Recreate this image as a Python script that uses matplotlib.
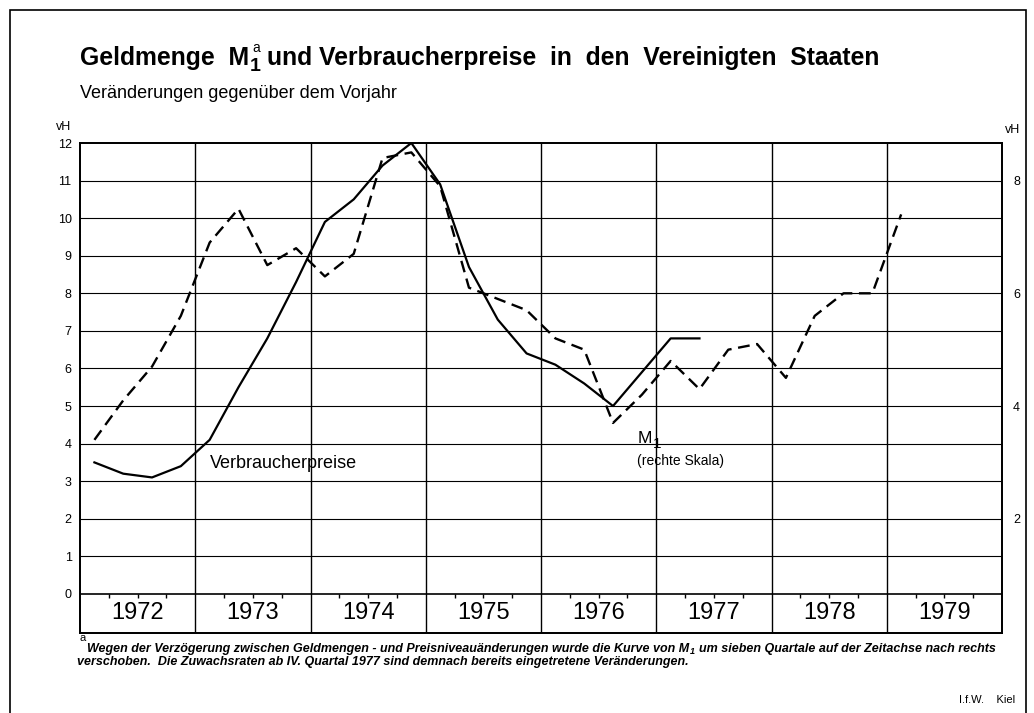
import numpy as np
import matplotlib
matplotlib.use('Agg')
import matplotlib.pyplot as plt
from matplotlib.patches import Rectangle

# years on the time axis
years = [1972, 1973, 1974, 1975, 1976, 1977, 1978, 1979]

# Verbraucherpreise, quarterly I/1972 - II/1977 (left scale, vH)
cpi = [3.5, 3.2, 3.1, 3.4,
       4.1, 5.5, 6.8, 8.3,
       9.9, 10.5, 11.4, 12.0,
       10.9, 8.7, 7.3, 6.4,
       6.1, 5.6, 5.0, 5.9,
       6.8, 6.8]

# Geldmenge M1, quarterly I/1972 - I/1979, shifted 7 quarters (right scale, vH)
m1 = [3.4, 4.1, 4.7, 5.6,
      6.9, 7.5, 6.5, 6.8,
      6.3, 6.7, 8.4, 8.5,
      7.9, 6.1, 5.9, 5.7,
      5.2, 5.0, 3.7, 4.2,
      4.8, 4.3, 5.0, 5.1,
      4.5, 5.6, 6.0, 6.0,
      7.4]

left_ticks = list(range(0, 13))
right_ticks = [2, 4, 6, 8]

plt.rcParams['font.family'] = ['Liberation Sans', 'DejaVu Sans']

W, H = 1034, 713


def fx(px):
    return px / W


def fy(py):
    return 1 - py / H


fig = plt.figure(figsize=(W / 100, H / 100), dpi=100)
renderer = fig.canvas.get_renderer()


def text_after(px, py, s, **kw):
    # put text at pixel position, return pixel x of its right end
    t = fig.text(fx(px), fy(py), s, va='baseline', **kw)
    bb = t.get_window_extent(renderer)
    return bb.x1


ax = fig.add_axes([fx(80), fy(633), fx(1002) - fx(80), fy(143) - fy(633)])

ybot = -1.04
ax.set_xlim(years[0], years[-1] + 1)
ax.set_ylim(ybot, 12)

# grid
ax.hlines(left_ticks[1:-1], years[0], years[-1] + 1, color='black', lw=0.8)
ax.hlines(0, years[0], years[-1] + 1, color='black', lw=1.2)
ax.vlines(years[1:], ybot, 12, color='black', lw=1.0)
for y in years:
    for q in (1, 2, 3):
        ax.vlines(y + q / 4, -0.12, 0, color='black', lw=1.0)
    ax.text(y + 0.5, -0.52, str(y), ha='center', va='center', fontsize=17)

# curves
t_cpi = years[0] + (np.arange(len(cpi)) + 0.5) / 4
ax.plot(t_cpi, cpi, color='black', lw=1.6)

ax2 = ax.twinx()
ax2.set_ylim((ybot + 1) / 1.5, 13 / 1.5)
t_m1 = years[0] + (np.arange(len(m1)) + 0.5) / 4
ax2.plot(t_m1, m1, color='black', lw=1.7, linestyle=(0, (5, 2.8)))

ax.set_xticks([])
ax.set_yticks(left_ticks)
ax.tick_params(axis='y', length=0, pad=6, labelsize=9)
ax2.set_yticks(right_ticks)
ax2.tick_params(axis='y', length=0, pad=8, labelsize=9)
for a in (ax, ax2):
    for s in a.spines.values():
        s.set_linewidth(1.3)

# title, built in pieces for the M1 with sub- and superscript
x = text_after(80, 65, 'Geldmenge  M', fontsize=17.8, fontweight='bold')
x1 = text_after(x + 1, 71, '1', fontsize=14, fontweight='bold')
x2 = text_after(x + 3, 52, 'a', fontsize=10)
text_after(max(x1, x2) + 6, 65, 'und Verbraucherpreise  in  den  Vereinigten  Staaten',
           fontsize=17.8, fontweight='bold')

fig.text(fx(80), fy(93), 'Veränderungen gegenüber dem Vorjahr', fontsize=13, va='center')
fig.text(fx(56), fy(127), 'vH', fontsize=9, va='center')
fig.text(fx(1005), fy(130), 'vH', fontsize=9, va='center')

fig.text(fx(210), fy(463), 'Verbraucherpreise', fontsize=13, va='center')
x = text_after(638, 443, 'M', fontsize=12.5)
text_after(x + 1, 448, '1', fontsize=11)
fig.text(fx(637), fy(461), '(rechte Skala)', fontsize=10, va='center')

fn = dict(fontsize=9, fontweight='bold', style='italic')
fig.text(fx(80), fy(638), 'a', fontsize=8, va='center')
x = text_after(87, 652,
               'Wegen der Verzögerung zwischen Geldmengen - und Preisniveauänderungen wurde die Kurve von M', **fn)
x = text_after(x + 1, 654, '1', fontsize=6.5, fontweight='bold', style='italic')
text_after(x + 4, 652, 'um sieben Quartale auf der Zeitachse nach rechts', **fn)
text_after(77, 665,
           'verschoben.  Die Zuwachsraten ab IV. Quartal 1977 sind demnach bereits eingetretene Veränderungen.', **fn)
fig.text(fx(1015), fy(700), 'I.f.W.    Kiel', fontsize=8, ha='right', va='center')

# outer frame
fig.patches.append(Rectangle((fx(10), -0.02), fx(1026) - fx(10), fy(10) + 0.02,
                             transform=fig.transFigure, fill=False, lw=1.2, color='black'))

fig.savefig('out.png', dpi=100)
